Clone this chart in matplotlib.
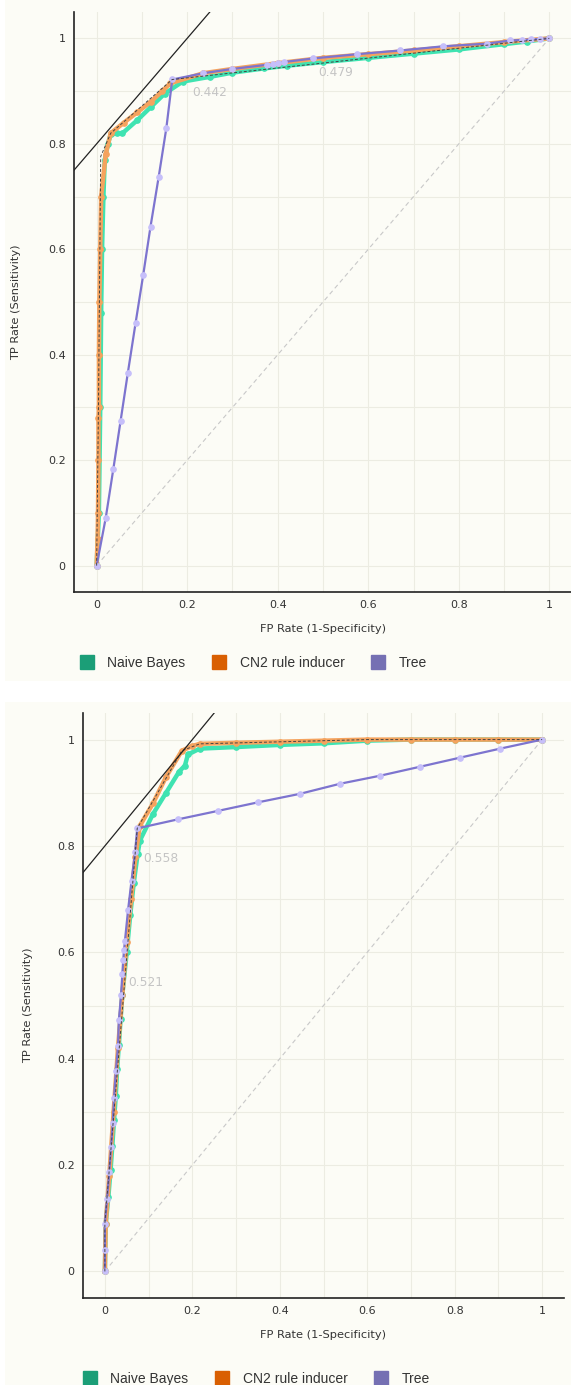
import matplotlib

matplotlib.use("Agg")
import matplotlib.pyplot as plt
from matplotlib.lines import Line2D
from matplotlib.patches import Rectangle

# ---- data ----
series_names = ["Naive Bayes", "CN2 rule inducer", "Tree"]

# panel 1
p1_nb_fpr = [0, 0.005, 0.008, 0.01, 0.012, 0.015, 0.018, 0.025, 0.031, 0.045, 0.057, 0.09, 0.12, 0.15,
             0.19, 0.25, 0.3, 0.37, 0.42, 0.5, 0.6, 0.7, 0.8, 0.9, 0.95, 1.0]
p1_nb_tpr = [0, 0.1, 0.3, 0.48, 0.6, 0.7, 0.77, 0.8, 0.818, 0.82, 0.82, 0.845, 0.87, 0.895,
             0.918, 0.927, 0.935, 0.943, 0.948, 0.955, 0.963, 0.971, 0.979, 0.989, 0.994, 1.0]
p1_cn2_fpr = [0, 0.002, 0.003, 0.004, 0.004, 0.005, 0.005, 0.006, 0.008, 0.01, 0.02, 0.031, 0.06, 0.09,
              0.12, 0.145, 0.163, 0.236, 0.3, 0.4, 0.5, 0.6, 0.7, 0.8, 0.9, 1.0]
p1_cn2_tpr = [0, 0.05, 0.1, 0.2, 0.28, 0.3, 0.4, 0.5, 0.6, 0.7, 0.78, 0.82, 0.84, 0.86,
              0.88, 0.9, 0.915, 0.934, 0.942, 0.953, 0.963, 0.97, 0.977, 0.985, 0.993, 1.0]
p1_tree_fpr = [0, 0.02, 0.037, 0.053, 0.069, 0.086, 0.103, 0.119, 0.137, 0.154, 0.167, 0.236, 0.3,
               0.377, 0.39, 0.40, 0.413, 0.479, 0.576, 0.671, 0.766, 0.863, 0.914, 0.94, 0.96, 0.98, 1.0]
p1_tree_tpr = [0, 0.09, 0.184, 0.275, 0.366, 0.46, 0.552, 0.643, 0.737, 0.83, 0.922, 0.934, 0.942,
               0.95, 0.952, 0.953, 0.955, 0.962, 0.97, 0.977, 0.985, 0.99, 0.996, 0.997, 0.998, 0.999, 1.0]
p1_hull_fpr = [0, 0.004, 0.009, 0.031, 0.167, 1.0]
p1_hull_tpr = [0, 0.3, 0.776, 0.82, 0.922, 1.0]
p1_labels = [("0.442", 0.212, 0.898), ("0.479", 0.49, 0.935)]

# panel 2
p2_nb_fpr = [0, 0.002, 0.008, 0.013, 0.017, 0.021, 0.025, 0.028, 0.032, 0.036, 0.04, 0.05, 0.058, 0.066,
             0.075, 0.08, 0.11, 0.14, 0.17, 0.183, 0.19, 0.217, 0.3, 0.4, 0.5, 0.6, 0.7, 0.8, 0.9, 1.0]
p2_nb_tpr = [0, 0.09, 0.14, 0.19, 0.235, 0.285, 0.33, 0.38, 0.425, 0.475, 0.52, 0.6, 0.67, 0.73,
             0.785, 0.81, 0.86, 0.9, 0.94, 0.951, 0.972, 0.983, 0.986, 0.99, 0.993, 0.998, 1.0, 1.0, 1.0, 1.0]
p2_cn2_fpr = [0, 0.002, 0.01, 0.02, 0.03, 0.04, 0.05, 0.06, 0.07, 0.08, 0.11, 0.14, 0.176, 0.2, 0.217,
              0.3, 0.4, 0.5, 0.6, 0.7, 0.8, 0.9, 1.0]
p2_cn2_tpr = [0, 0.09, 0.18, 0.3, 0.42, 0.52, 0.62, 0.7, 0.78, 0.838, 0.88, 0.93, 0.979, 0.988, 0.992,
              0.994, 0.996, 0.998, 1.0, 1.0, 1.0, 1.0, 1.0]
p2_tree_fpr = [0, 0, 0, 0.005, 0.01, 0.014, 0.018, 0.021, 0.025, 0.03, 0.032, 0.037, 0.04, 0.042, 0.044,
               0.046, 0.053, 0.061, 0.069, 0.074, 0.167, 0.259, 0.35, 0.446, 0.538, 0.629, 0.721, 0.812,
               0.904, 1.0]
p2_tree_tpr = [0, 0.04, 0.09, 0.137, 0.186, 0.233, 0.28, 0.327, 0.376, 0.423, 0.472, 0.519, 0.56, 0.585,
               0.605, 0.622, 0.679, 0.735, 0.788, 0.833, 0.85, 0.866, 0.882, 0.898, 0.917, 0.932, 0.949,
               0.966, 0.983, 1.0]
p2_hull_fpr = [0, 0, 0.074, 0.176, 0.217, 0.6, 1.0]
p2_hull_tpr = [0, 0.09, 0.833, 0.979, 0.992, 1.0, 1.0]
p2_labels = [("0.558", 0.087, 0.776), ("0.521", 0.053, 0.543)]

iso_intercept = 0.8
ticks = [0, 0.2, 0.4, 0.6, 0.8, 1]
tick_labels = ["0", "0.2", "0.4", "0.6", "0.8", "1"]

legend_colors = ["#1b9e77", "#d95f02", "#7570b3"]
line_colors = ["#3fe3b1", "#f5a35e", "#7d74cf"]
marker_colors = ["#3fe3b1", "#f5a35e", "#c6bffa"]
bg = "#fcfcf6"

W, H = 571, 1385
fig = plt.figure(figsize=(W / 100, H / 100), dpi=100)
fig.patch.set_facecolor("white")
fig.patches.append(Rectangle((5 / W, 1 - 681 / H), 566 / W, 681 / H, transform=fig.transFigure,
                             facecolor=bg, edgecolor="none", zorder=-10))
fig.patches.append(Rectangle((5 / W, 0), 566 / W, 1 - 702 / H, transform=fig.transFigure,
                             facecolor=bg, edgecolor="none", zorder=-10))


def px_axes(left, top, right, bottom):
    return fig.add_axes([left / W, 1 - bottom / H, (right - left) / W, (bottom - top) / H])


def draw_panel(ax, curves, hull, labels, ylabel_x):
    ax.set_facecolor(bg)
    ax.set_xlim(-0.05, 1.05)
    ax.set_ylim(-0.05, 1.05)
    for v in [i / 10 for i in range(11)]:
        ax.axvline(v, color="#ecece2", lw=0.8, zorder=0)
        ax.axhline(v, color="#ecece2", lw=0.8, zorder=0)
    ax.plot([0, 1], [0, 1], color="#c8c8c8", lw=0.8, dashes=(4, 3), zorder=1)
    for (fpr, tpr), lc, mc, lw in zip(curves, line_colors, marker_colors, [3.2, 3.2, 1.6]):
        ax.plot(fpr, tpr, color=lc, lw=lw, marker="o", ms=3.8, mfc=mc, mec=mc, zorder=2)
    ax.plot(hull[0], hull[1], color="#444444", lw=0.7, dashes=(3, 2), zorder=3)
    ax.axline((0, iso_intercept), slope=1, color="#222222", lw=0.9, zorder=4)
    for txt, x, y in labels:
        ax.text(x, y, txt, color="#c4c4c4", fontsize=8.8, va="center", ha="left", zorder=5)
    for s in ["top", "right"]:
        ax.spines[s].set_visible(False)
    for s in ["left", "bottom"]:
        ax.spines[s].set_color("#222222")
        ax.spines[s].set_linewidth(1.2)
    ax.set_xticks(ticks, tick_labels)
    ax.set_yticks(ticks, tick_labels)
    ax.tick_params(length=0, labelsize=8, labelcolor="#333333", pad=6)
    ax.set_xlabel("FP Rate (1-Specificity)", fontsize=8.2, color="#333333", labelpad=10)
    ax.set_ylabel("TP Rate (Sensitivity)", fontsize=8.2, color="#333333")
    ax.yaxis.set_label_coords(ylabel_x, 0.5)


ax1 = px_axes(74, 12, 572, 592)
draw_panel(ax1,
           [(p1_nb_fpr, p1_nb_tpr), (p1_cn2_fpr, p1_cn2_tpr), (p1_tree_fpr, p1_tree_tpr)],
           (p1_hull_fpr, p1_hull_tpr), p1_labels, -0.106)

ax2 = px_axes(83, 713, 564, 1298)
draw_panel(ax2,
           [(p2_nb_fpr, p2_nb_tpr), (p2_cn2_fpr, p2_cn2_tpr), (p2_tree_fpr, p2_tree_tpr)],
           (p2_hull_fpr, p2_hull_tpr), p2_labels, -0.104)

handles = [Line2D([], [], ls="none", marker="s", ms=10.5, mfc=c, mec=c) for c in legend_colors]
for cx, cy in [(250, 663), (253, 1379)]:
    fig.legend(handles, series_names, loc="center", bbox_to_anchor=(cx / W, 1 - cy / H), ncol=3,
               frameon=False, prop={"family": "Liberation Sans", "size": 10}, handletextpad=0.45,
               columnspacing=1.45, labelcolor="#333333")

fig.savefig("out.png", dpi=100, facecolor="white")
